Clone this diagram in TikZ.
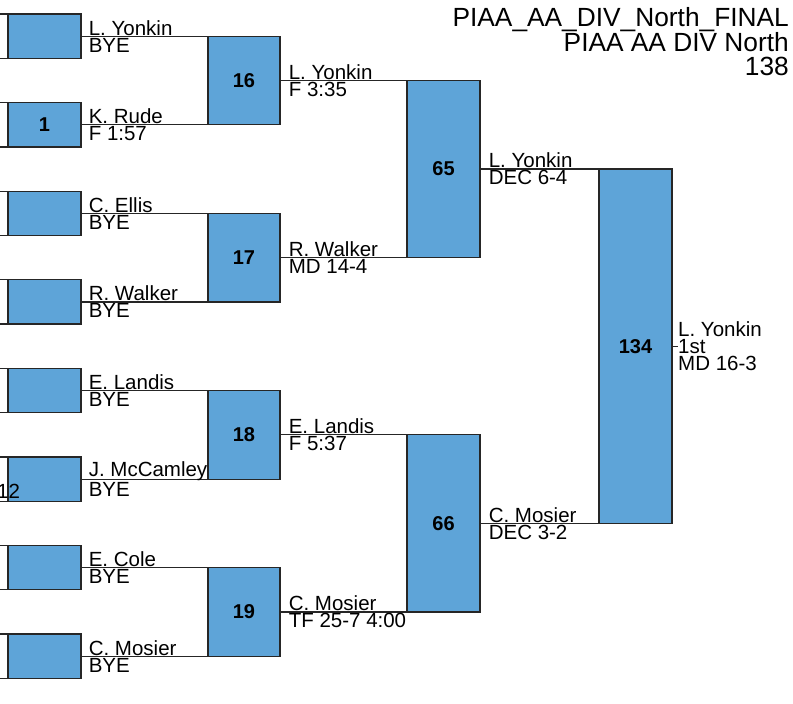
\documentclass[tikz,border=0pt]{standalone}
\usepackage{fontspec}
\setmainfont{Liberation Sans}
\usepackage{xcolor}
\definecolor{boutblue}{RGB}{94,164,216}

\begin{document}
\begin{tikzpicture}[x=1pt, y=-1pt,
                    box/.style={draw=black!85, line width=1.2pt, inner sep=0pt,
                                font=\fontsize{20}{20}\selectfont\bfseries},
                    prior/.style={box, fill=white, minimum width=73, minimum height=44.3},
                    bout1/.style={box, fill=boutblue, minimum width=73, minimum height=44.3},
                    bout2/.style={box, fill=boutblue, minimum width=72, minimum height=88.6},
                    bout3/.style={box, fill=boutblue, minimum width=73, minimum height=177.1},
                    bout4/.style={box, fill=boutblue, minimum width=73, minimum height=354.3},
                    wire/.style={draw=black!85, line width=1.2pt},
                    who/.style={anchor=west, align=left, inner xsep=7pt, inner ysep=0pt,
                                font=\fontsize{20.5}{17}\selectfont}]
    \useasboundingbox (0,0) rectangle (793,704);
    \clip (0,0) rectangle (793,704);

    % earlier bouts, cut off at the left edge
    \node[prior] (p1) at (-28.5,36.2) {};
    \node[prior] (p2) at (-28.5,124.8) {};
    \node[prior] (p3) at (-28.5,213.3) {};
    \node[prior] (p4) at (-28.5,301.9) {};
    \node[prior] (p5) at (-28.5,390.5) {};
    \node[prior] (p6) at (-28.5,479.1) {};
    \node[prior] (p7) at (-28.5,567.6) {};
    \node[prior] (p8) at (-28.5,656.2) {};

    % first column
    \node[bout1] (a1) at (44.5,36.2) {};
    \node[bout1] (a2) at (44.5,124.8) {1};
    \node[bout1] (a3) at (44.5,213.3) {};
    \node[bout1] (a4) at (44.5,301.9) {};
    \node[bout1] (a5) at (44.5,390.5) {};
    \node[bout1] (a6) at (44.5,479.1) {};
    \node[bout1] (a7) at (44.5,567.6) {};
    \node[bout1] (a8) at (44.5,656.2) {};

    % second column
    \node[bout2] (b16) at (244,80.5) {16};
    \node[bout2] (b17) at (244,257.6) {17};
    \node[bout2] (b18) at (244,434.8) {18};
    \node[bout2] (b19) at (244,611.9) {19};

    % semis and final
    \node[bout3] (c65) at (443.5,169.05) {65};
    \node[bout3] (c66) at (443.5,523.35) {66};
    \node[bout4] (f134) at (635.5,346.2) {134};
    \coordinate (fin) at (678,346.2);

    \draw[wire] (a1.east) -- (a1.east -| b16.west);
    \draw[wire] (a2.east) -- (a2.east -| b16.west);
    \draw[wire] (a3.east) -- (a3.east -| b17.west);
    \draw[wire] (a4.east) -- (a4.east -| b17.west);
    \draw[wire] (a5.east) -- (a5.east -| b18.west);
    \draw[wire] (a6.east) -- (a6.east -| b18.west);
    \draw[wire] (a7.east) -- (a7.east -| b19.west);
    \draw[wire] (a8.east) -- (a8.east -| b19.west);
    \draw[wire] (b16.east) -- (b16.east -| c65.west);
    \draw[wire] (b17.east) -- (b17.east -| c65.west);
    \draw[wire] (b18.east) -- (b18.east -| c66.west);
    \draw[wire] (b19.east) -- (b19.east -| c66.west);
    \draw[wire] (c65.east) -- (c65.east -| f134.west);
    \draw[wire] (c66.east) -- (c66.east -| f134.west);
    \draw[wire] (f134.east) -- (fin);

    \node[who] at (a1.east) {L. Yonkin\\BYE};
    \node[who] at (a2.east) {K. Rude\\F 1:57};
    \node[who] at (a3.east) {C. Ellis\\BYE};
    \node[who] at (a4.east) {R. Walker\\BYE};
    \node[who] at (a5.east) {E. Landis\\BYE};
    \node[who] at (a6.east) {J. McCamley\\BYE};
    \node[who] at (a7.east) {E. Cole\\BYE};
    \node[who] at (a8.east) {C. Mosier\\BYE};
    \node[who, inner xsep=8pt] at (b16.east) {L. Yonkin\\F 3:35};
    \node[who, inner xsep=8pt] at (b17.east) {R. Walker\\MD 14-4};
    \node[who, inner xsep=8pt] at (b18.east) {E. Landis\\F 5:37};
    \node[who, inner xsep=8pt] at (b19.east) {C. Mosier\\TF 25-7 4:00};
    \node[who, inner xsep=8pt] at (c65.east) {L. Yonkin\\DEC 6-4};
    \node[who, inner xsep=8pt] at (c66.east) {C. Mosier\\DEC 3-2};
    \node[who, inner xsep=0pt] (champ) at (fin) {L. Yonkin\\1st\\MD 16-3};

    \node[anchor=base west, inner sep=0pt, font=\fontsize{20.5}{20}\selectfont] (p6num) at (-3,498) {12};
    \node[anchor=north east, align=right, inner sep=0pt,
          font=\fontsize{26.3}{23.5}\selectfont] (title) at (789,7)
          {PIAA\_AA\_DIV\_North\_FINAL\\PIAA AA DIV North\\138};
\end{tikzpicture}
\end{document}
